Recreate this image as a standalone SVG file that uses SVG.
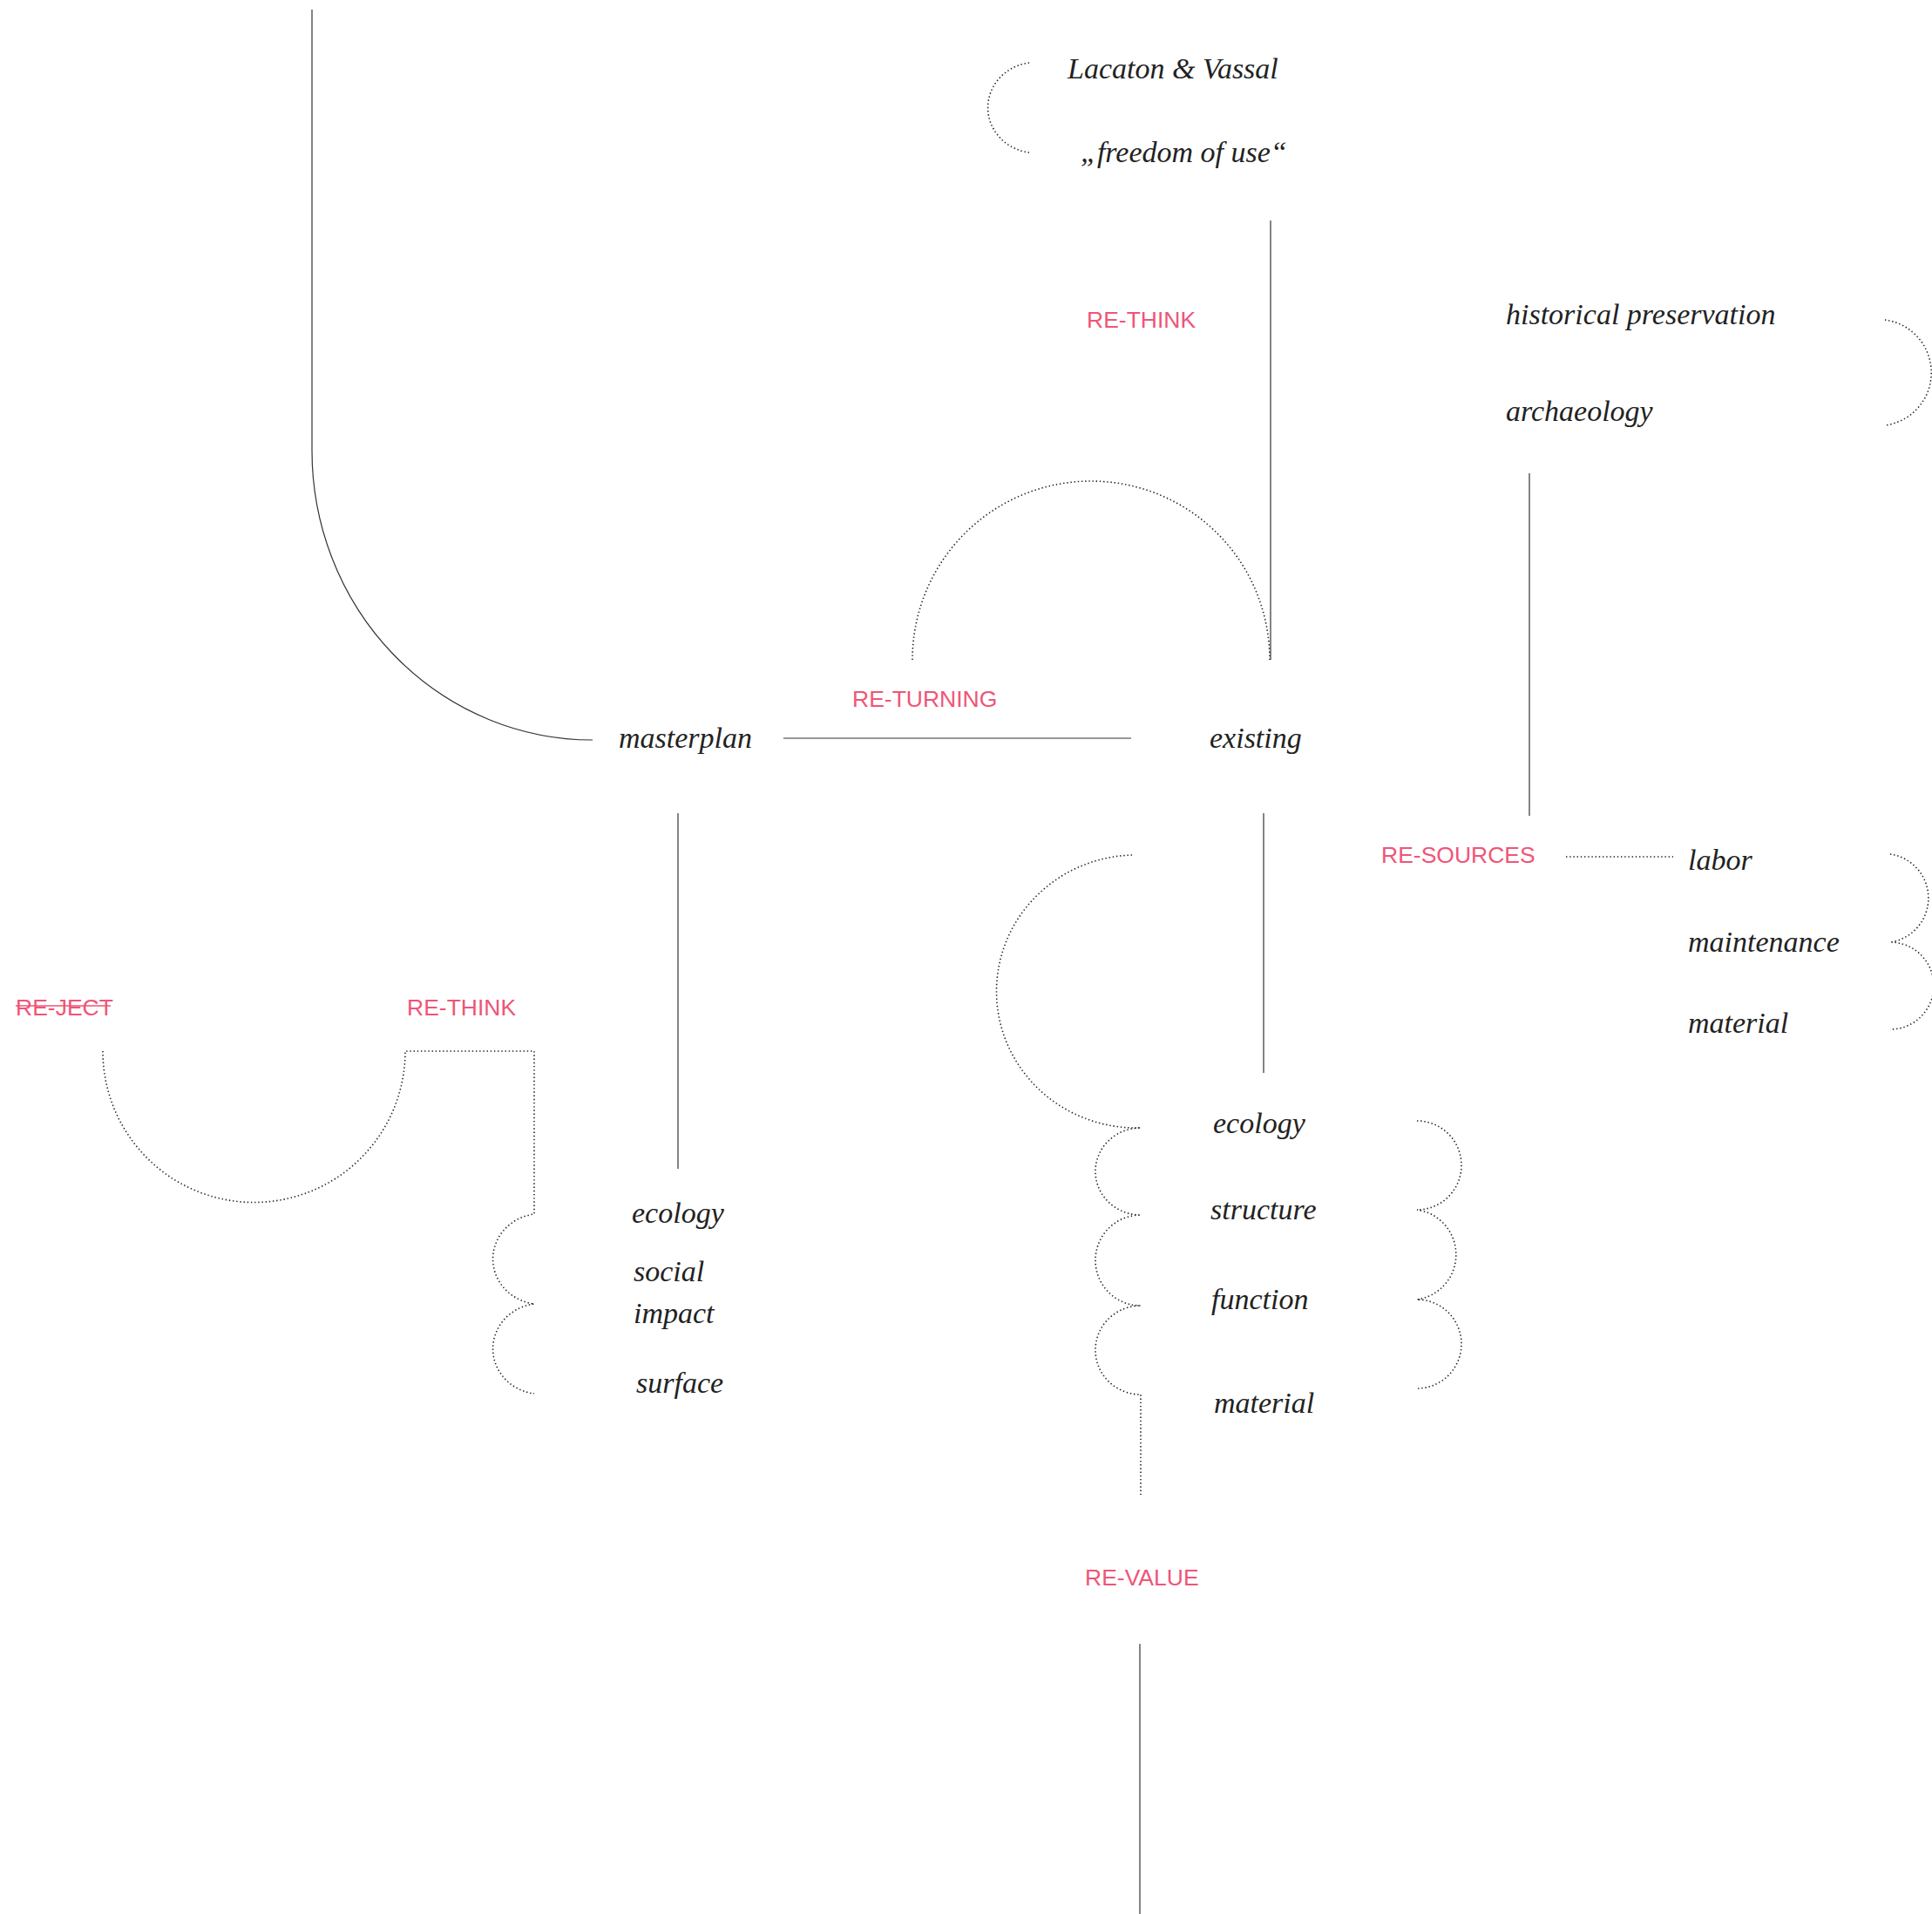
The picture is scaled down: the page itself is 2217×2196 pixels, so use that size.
<svg xmlns="http://www.w3.org/2000/svg" width="2217" height="2196" viewBox="0 0 2217 2196">
<style>
.t{font-family:"Liberation Serif","Times New Roman",serif;font-style:italic;font-size:34px;fill:#222}
.p{font-family:"Liberation Sans",Arial,sans-serif;font-size:26.5px;fill:#ef5577}
.s{fill:none;stroke:#333;stroke-width:1.2}
.d{fill:none;stroke:#222;stroke-width:1.6;stroke-dasharray:1.4 2.8}
</style>
<rect width="2217" height="2196" fill="#fff"/>
<g id="connectors">
<path class="s" d="M358,11 V517 A322,332 0 0 0 680,849"/>
<path class="s" d="M899,847 H1298"/>
<path class="s" d="M1458,253 V757"/>
<path class="s" d="M1755,543 V936"/>
<path class="s" d="M778,933 V1341"/>
<path class="s" d="M1450,933 V1231"/>
<path class="s" d="M1308,1886 V2196"/>
<path class="d" d="M1181,72 A55,52 0 0 0 1181,175"/>
<path class="d" d="M2163,367 A61,61 0 0 1 2163,488"/>
<path class="d" d="M1047,757 A205,205 0 0 1 1457,757"/>
<path class="d" d="M1299,981 A160,156 0 0 0 1309,1294 A52,50 0 0 0 1309,1394 A52,52 0 0 0 1309,1498 A52,51 0 0 0 1309,1600 V1717"/>
<path class="d" d="M1626,1286 A51,51 0 0 1 1626,1388 A52,52 0 0 1 1626,1491 A51,51 0 0 1 1626,1593"/>
<path class="d" d="M1797,983 H1920"/>
<path class="d" d="M2169,980 A51,51 0 0 1 2169,1081 A50,50 0 0 1 2169,1181"/>
<path class="d" d="M118,1206 A173,173 0 0 0 465,1206 H613 V1393 A55,52 0 0 0 613,1496 A55,52 0 0 0 613,1599"/>
</g>
<g id="lacaton"><text class="t" x="1225" y="90">Lacaton &amp; Vassal</text></g>
<g id="freedom"><text class="t" x="1240" y="186">„freedom of use“</text></g>
<g id="rethink-top"><text class="p" x="1247" y="376">RE-THINK</text></g>
<g id="historical"><text class="t" x="1728" y="372">historical preservation</text></g>
<g id="archaeology"><text class="t" x="1728" y="483">archaeology</text></g>
<g id="returning"><text class="p" x="978" y="811">RE-TURNING</text></g>
<g id="masterplan"><text class="t" x="710" y="858">masterplan</text></g>
<g id="existing"><text class="t" x="1388" y="858">existing</text></g>
<g id="resources"><text class="p" x="1585" y="990">RE-SOURCES</text></g>
<g id="labor"><text class="t" x="1937" y="998">labor</text></g>
<g id="maintenance"><text class="t" x="1937" y="1092">maintenance</text></g>
<g id="material-r"><text class="t" x="1937" y="1185">material</text></g>
<g id="reject"><text class="p" x="18" y="1165">RE-JECT</text><path d="M18,1154 H127" stroke="#ef5577" stroke-width="1.6"/></g>
<g id="rethink-left"><text class="p" x="467" y="1165">RE-THINK</text></g>
<g id="ecology-l"><text class="t" x="725" y="1403">ecology</text></g>
<g id="social-impact"><text class="t" x="727" y="1470">social</text><text class="t" x="727" y="1518">impact</text></g>
<g id="surface"><text class="t" x="730" y="1598">surface</text></g>
<g id="ecology-c"><text class="t" x="1392" y="1300">ecology</text></g>
<g id="structure"><text class="t" x="1389" y="1399">structure</text></g>
<g id="function"><text class="t" x="1390" y="1502">function</text></g>
<g id="material-c"><text class="t" x="1393" y="1621">material</text></g>
<g id="revalue"><text class="p" x="1245" y="1819">RE-VALUE</text></g>
</svg>
